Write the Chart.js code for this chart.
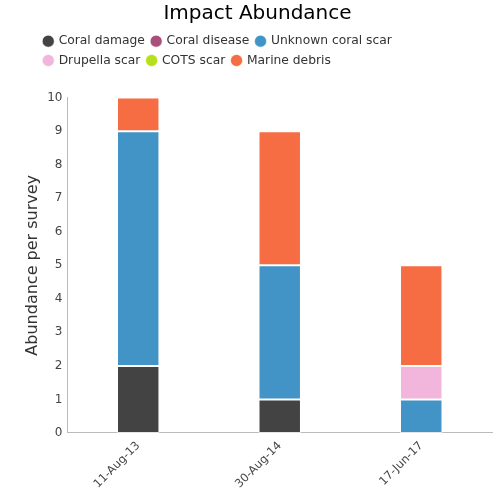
<!DOCTYPE html>
<html><head><meta charset="utf-8">
<script src="https://cdn.jsdelivr.net/npm/chart.js@4/dist/chart.umd.min.js"></script>
<style>html,body{margin:0;padding:0;background:#fff}#wrap{width:500px;height:500px}</style>
</head><body><div id="wrap"><canvas id="c"></canvas></div>
<script>
const categories = ["11-Aug-13", "30-Aug-14", "17-Jun-17"];
const seriesNames = ["Coral damage", "Coral disease", "Unknown coral scar", "Drupella scar", "COTS scar", "Marine debris"];
const coralDamage = [2, 1, 0];
const coralDisease = [0, 0, 0];
const unknownCoralScar = [7, 4, 1];
const drupellaScar = [0, 0, 1];
const cotsScar = [0, 0, 0];
const marineDebris = [1, 4, 3];
const colors = ["#434343", "#a94f7b", "#4394c6", "#f2b6dc", "#b6e01e", "#f66d43"];
const values = [coralDamage, coralDisease, unknownCoralScar, drupellaScar, cotsScar, marineDebris];

Chart.defaults.font.family = "'DejaVu Sans', sans-serif";
Chart.defaults.color = "#444";

const legendTweak = {
  id: 'legendTweak',
  beforeInit(chart) {
    const lg = chart.legend;
    const origFit = lg.fit;
    lg.fit = function () {
      this.maxWidth = Math.min(this.maxWidth, 380);
      origFit.call(this);
      this.height += 21;
    };
  },
  afterLayout(chart) {
    const lg = chart.legend;
    lg.left = 37;
    lg.right = lg.left + 380;
    lg.width = 380;
  }
};

new Chart(document.getElementById('c'), {
  type: 'bar',
  data: {
    labels: categories,
    datasets: seriesNames.map((n, i) => ({
      label: n,
      data: values[i],
      backgroundColor: colors[i],
      borderColor: 'rgba(255,255,255,0.6)',
      borderWidth: 1,
      borderSkipped: false,
      categoryPercentage: 1,
      barPercentage: 0.3
    }))
  },
  plugins: [legendTweak],
  options: {
    responsive: true,
    maintainAspectRatio: false,
    animation: false,
    layout: { padding: { left: 23, right: 8, top: 0, bottom: 3 } },
    plugins: {
      title: { display: true, text: 'Impact Abundance', color: '#000', font: { size: 20, weight: 'normal' }, padding: { top: 2, bottom: 2 } },
      legend: {
        position: 'top', align: 'start',
        labels: { usePointStyle: true, pointStyle: 'circle', boxWidth: 8.5, boxHeight: 8.5, padding: 7, color: '#333', font: { size: 12.3 } }
      },
      tooltip: { enabled: false }
    },
    scales: {
      x: {
        stacked: true,
        grid: { display: false, drawTicks: false },
        border: { color: '#bbb' },
        ticks: { maxRotation: 45, minRotation: 45, color: '#444', font: { size: 11.5 }, padding: 6 }
      },
      y: {
        stacked: true, min: 0, max: 10,
        ticks: { stepSize: 1, color: '#444', font: { size: 12 }, padding: 5 },
        grid: { display: false, drawTicks: false },
        border: { color: '#bbb' },
        title: { display: true, text: 'Abundance per survey', color: '#333', font: { size: 16 }, padding: { top: 0, bottom: 0 } }
      }
    }
  }
});
</script></body></html>
